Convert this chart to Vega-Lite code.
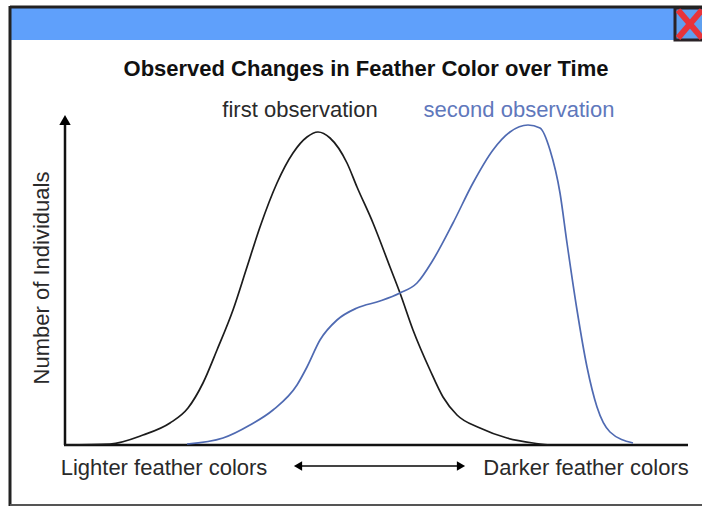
{
"$schema":"https://vega.github.io/schema/vega-lite/v6.json",
"autosize":{"type":"none"},
"padding":0,
"width":702,
"height":507,
"background":"white",
"view":{"stroke":null},
"config":{"font":"Liberation Sans"},
"datasets":{
"curves":[
{"series":"first observation","color":65,"count":0},{"series":"first observation","color":110,"count":1},{"series":"first observation","color":143,"count":10},{"series":"first observation","color":170,"count":22},{"series":"first observation","color":188,"count":37},{"series":"first observation","color":203,"count":62},{"series":"first observation","color":217,"count":95},{"series":"first observation","color":233,"count":135},{"series":"first observation","color":247,"count":178},{"series":"first observation","color":260,"count":218},{"series":"first observation","color":277,"count":262},{"series":"first observation","color":293,"count":292},{"series":"first observation","color":307,"count":308},{"series":"first observation","color":318,"count":313},{"series":"first observation","color":330,"count":307},{"series":"first observation","color":347,"count":282},{"series":"first observation","color":357,"count":258},{"series":"first observation","color":373,"count":222},{"series":"first observation","color":390,"count":178},{"series":"first observation","color":400,"count":152},{"series":"first observation","color":413,"count":115},{"series":"first observation","color":430,"count":75},{"series":"first observation","color":443,"count":48},{"series":"first observation","color":457,"count":30},{"series":"first observation","color":480,"count":17},{"series":"first observation","color":507,"count":7},{"series":"first observation","color":533,"count":2},{"series":"first observation","color":550,"count":0},
{"series":"second observation","color":187,"count":1},{"series":"second observation","color":223,"count":7},{"series":"second observation","color":250,"count":20},{"series":"second observation","color":273,"count":35},{"series":"second observation","color":297,"count":60},{"series":"second observation","color":307,"count":78},{"series":"second observation","color":320,"count":105},{"series":"second observation","color":337,"count":125},{"series":"second observation","color":357,"count":137},{"series":"second observation","color":380,"count":144},{"series":"second observation","color":400,"count":152},{"series":"second observation","color":417,"count":162},{"series":"second observation","color":433,"count":185},{"series":"second observation","color":453,"count":222},{"series":"second observation","color":473,"count":262},{"series":"second observation","color":493,"count":295},{"series":"second observation","color":510,"count":313},{"series":"second observation","color":528,"count":320},{"series":"second observation","color":540,"count":317},{"series":"second observation","color":550,"count":295},{"series":"second observation","color":560,"count":252},{"series":"second observation","color":567,"count":202},{"series":"second observation","color":577,"count":135},{"series":"second observation","color":587,"count":78},{"series":"second observation","color":597,"count":38},{"series":"second observation","color":610,"count":13},{"series":"second observation","color":633,"count":2}
]
},
"encoding":{
"x":{"field":"color","type":"quantitative","scale":{"domain":[0,702],"nice":false,"zero":false},"axis":null},
"y":{"field":"count","type":"quantitative","scale":{"domain":[-62,445],"nice":false,"zero":false},"axis":null}
},
"layer":[
{"data":{"values":[{"color":11,"color2":702,"count":437,"count2":405}]},"mark":{"type":"rect","fill":"#5fa0fb"},"encoding":{"x2":{"field":"color2"},"y2":{"field":"count2"}}},
{"data":{"values":[{"color":675,"color2":706,"count":437,"count2":405}]},"mark":{"type":"rect","fill":"#5fa0f0","stroke":"#2a2226","strokeWidth":3},"encoding":{"x2":{"field":"color2"},"y2":{"field":"count2"}}},
{"data":{"values":[{"color":678,"color2":702,"count":435,"count2":407}]},"mark":{"type":"rule","stroke":"#e8343a","strokeWidth":6},"encoding":{"x2":{"field":"color2"},"y2":{"field":"count2"}}},
{"data":{"values":[{"color":702,"color2":678,"count":435,"count2":407}]},"mark":{"type":"rule","stroke":"#e8343a","strokeWidth":6},"encoding":{"x2":{"field":"color2"},"y2":{"field":"count2"}}},
{"data":{"values":[{"color":10,"color2":702,"count":438,"count2":438}]},"mark":{"type":"rule","stroke":"#222222","strokeWidth":3},"encoding":{"x2":{"field":"color2"},"y2":{"field":"count2"}}},
{"data":{"values":[{"color":10,"color2":10,"count":439,"count2":-61}]},"mark":{"type":"rule","stroke":"#222222","strokeWidth":3},"encoding":{"x2":{"field":"color2"},"y2":{"field":"count2"}}},
{"data":{"values":[{"color":10,"color2":702,"count":-60,"count2":-60}]},"mark":{"type":"rule","stroke":"#555555","strokeWidth":2},"encoding":{"x2":{"field":"color2"},"y2":{"field":"count2"}}},
{"data":{"values":[{"color":64,"color2":688,"count":0,"count2":0}]},"mark":{"type":"rule","stroke":"#111111","strokeWidth":2.5},"encoding":{"x2":{"field":"color2"},"y2":{"field":"count2"}}},
{"data":{"values":[{"color":65,"color2":65,"count":0,"count2":320}]},"mark":{"type":"rule","stroke":"#111111","strokeWidth":2.5},"encoding":{"x2":{"field":"color2"},"y2":{"field":"count2"}}},
{"data":{"values":[{"color":300,"color2":458,"count":-21,"count2":-21}]},"mark":{"type":"rule","stroke":"#444444","strokeWidth":2},"encoding":{"x2":{"field":"color2"},"y2":{"field":"count2"}}},
{"data":{"values":[{"color":65,"count":325}]},"mark":{"type":"point","shape":"triangle-up","filled":true,"fill":"#000000","opacity":1,"size":130}},
{"data":{"values":[{"color":298,"count":-21}]},"mark":{"type":"point","shape":"triangle-left","filled":true,"fill":"#000000","opacity":1,"size":90}},
{"data":{"values":[{"color":461,"count":-21}]},"mark":{"type":"point","shape":"triangle-right","filled":true,"fill":"#000000","opacity":1,"size":90}},
{"data":{"name":"curves"},"mark":{"type":"line","interpolate":"monotone","strokeWidth":1.7},"encoding":{"stroke":{"field":"series","type":"nominal","scale":{"domain":["first observation","second observation"],"range":["#1c1c1c","#4f6ab2"]},"legend":null},"order":{"field":"color","type":"quantitative"}}},
{"data":{"values":[{"color":366,"count":376,"label":"Observed Changes in Feather Color over Time"}]},"mark":{"type":"text","font":"Liberation Sans","fontWeight":"bold","fontSize":22,"fill":"#111111","align":"center","baseline":"middle"},"encoding":{"text":{"field":"label"}}},
{"data":{"values":[{"color":300,"count":335,"label":"first observation"}]},"mark":{"type":"text","font":"Liberation Sans","fontSize":22,"fill":"#2a2a2a","align":"center","baseline":"middle"},"encoding":{"text":{"field":"label"}}},
{"data":{"values":[{"color":519,"count":335,"label":"second observation"}]},"mark":{"type":"text","font":"Liberation Sans","fontSize":22,"fill":"#5f78bc","align":"center","baseline":"middle"},"encoding":{"text":{"field":"label"}}},
{"data":{"values":[{"color":164,"count":-23,"label":"Lighter feather colors"},{"color":586,"count":-23,"label":"Darker feather colors"}]},"mark":{"type":"text","font":"Liberation Sans","fontSize":22,"fill":"#2a2a2a","align":"center","baseline":"middle"},"encoding":{"text":{"field":"label"}}},
{"data":{"values":[{"color":42,"count":167,"label":"Number of Individuals"}]},"mark":{"type":"text","font":"Liberation Sans","fontSize":22,"fill":"#2a2a2a","align":"center","baseline":"middle","angle":270},"encoding":{"text":{"field":"label"}}}
]
}
